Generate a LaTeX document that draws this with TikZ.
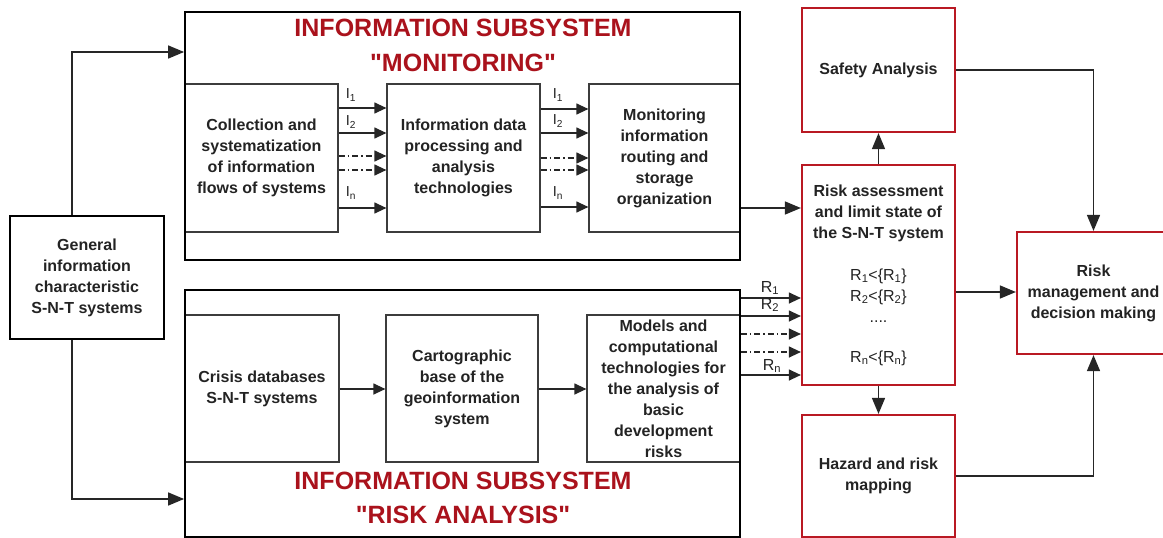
\documentclass[tikz,border=0pt]{standalone}
\usepackage{fontspec}
\setmainfont{Liberation Sans}
\usetikzlibrary{arrows.meta,calc}
\definecolor{boxred}{RGB}{185,25,35}
\definecolor{titlered}{RGB}{170,18,28}
\definecolor{txtc}{RGB}{35,35,35}
\definecolor{innerc}{RGB}{60,60,60}
\begin{document}
\begin{tikzpicture}[x=1pt,y=-1pt,
 outerbox/.style={draw=black, line width=1.8pt, inner sep=0pt},
 innerbox/.style={draw=innerc, line width=1.2pt, inner sep=0pt},
 redbox/.style={draw=boxred, line width=2.2pt, inner sep=0pt},
 txt/.style={font=\fontsize{16}{21}\selectfont\bfseries, text=txtc, align=center},
 ttl/.style={font=\fontsize{25}{34.5}\selectfont\bfseries, text=titlered, align=center, inner sep=0pt},
 lbl/.style={font=\fontsize{14.5}{16}\selectfont, text=txtc, inner sep=0pt},
 rlbl/.style={font=\fontsize{16}{16}\selectfont, text=txtc, inner sep=0pt},
 arr/.style={line width=1.5pt, draw=black!85, -{Triangle[length=16pt,width=13pt]}},
 flow/.style={line width=1.2pt, draw=black!85, -{Triangle[length=12pt,width=11pt]}},
 dflow/.style={flow, dash pattern=on 6pt off 3pt on 1.5pt off 3pt},
]
\useasboundingbox (0,0) rectangle (1163,538);

% inner boxes (monitoring)
\node[innerbox, txt, minimum width=153, minimum height=148] (b1) at (261.5,158)
  {Collection and\\systematization\\of information\\flows of systems};
\node[innerbox, txt, minimum width=153, minimum height=148] (b2) at (463.5,158)
  {Information data\\processing and\\analysis\\technologies};
\node[innerbox, txt, minimum width=151, minimum height=148] (b3) at (664.5,158)
  {Monitoring\\information\\routing and\\storage\\organization};
% inner boxes (risk analysis)
\node[innerbox, txt, minimum width=154, minimum height=147] (b4) at (262,388.5)
  {Crisis databases\\S-N-T systems};
\node[innerbox, txt, minimum width=152, minimum height=147] (b5) at (462,388.5)
  {Cartographic\\base of the\\geoinformation\\system};
\node[innerbox, txt, minimum width=153, minimum height=147] (b6) at (663.5,388.5)
  {Models and\\computational\\technologies for\\the analysis of\\basic\\development\\risks};

% outer boxes
\node[outerbox, minimum width=555, minimum height=248] (mon) at (462.5,136) {};
\node[outerbox, minimum width=555, minimum height=247] (risk) at (462.5,413.5) {};
\node[ttl] (t1) at (463,45.5) {INFORMATION SUBSYSTEM\\\textquotedbl MONITORING\textquotedbl};
\node[ttl] (t2) at (463,498) {INFORMATION SUBSYSTEM\\\textquotedbl RISK ANALYSIS\textquotedbl};

% left box
\node[outerbox, txt, minimum width=154, minimum height=123] (gen) at (87,277.5)
  {General\\information\\characteristic\\S-N-T systems};

% red boxes
\node[redbox, txt, minimum width=153, minimum height=124] (safety) at (878.5,70) {Safety Analysis};
\node[redbox, txt, minimum width=153, minimum height=220] (assess) at (878.5,275)
  {Risk assessment\\and limit state of\\the S-N-T system\\[21pt]
   {\mdseries R\textsubscript{1}<\{R\textsubscript{1}\}}\\
   {\mdseries R\textsubscript{2}<\{R\textsubscript{2}\}}\\
   {\mdseries ....}\\[19pt]
   {\mdseries R\textsubscript{n}<\{R\textsubscript{n}\}}};
\node[redbox, txt, minimum width=153, minimum height=122] (hazard) at (878.5,476)
  {Hazard and risk\\mapping};
\node[redbox, txt, minimum width=153, minimum height=122] (manage) at (1093.5,293)
  {Risk\\management and\\decision making};

% connectors from left box
\draw[arr] (gen.north -| 72,0) |- (mon.west |- 0,52);
\draw[arr] (gen.south -| 72,0) |- (risk.west |- 0,499);

% I flows b1 -> b2
\foreach \yy in {108,133,208} \draw[flow] (b1.east |- 0,\yy) -- (b2.west |- 0,\yy);
\foreach \yy in {156,170} \draw[dflow] (b1.east |- 0,\yy) -- (b2.west |- 0,\yy);
\node[lbl] (i11) at (351,95) {I\textsubscript{1}};
\node[lbl] (i12) at (351,122) {I\textsubscript{2}};
\node[lbl] (i1n) at (351,193) {I\textsubscript{n}};
% I flows b2 -> b3
\foreach \yy in {109,133,207} \draw[flow] (b2.east |- 0,\yy) -- (b3.west |- 0,\yy);
\foreach \yy in {158,170} \draw[dflow] (b2.east |- 0,\yy) -- (b3.west |- 0,\yy);
\node[lbl] (i21) at (558,95) {I\textsubscript{1}};
\node[lbl] (i22) at (558,121) {I\textsubscript{2}};
\node[lbl] (i2n) at (558,193) {I\textsubscript{n}};

% monitoring -> assessment
\draw[arr] (b3.east |- 0,208) -- (assess.west |- 0,208);

% R flows
\foreach \yy in {298,316,375} \draw[flow] (risk.east |- 0,\yy) -- (assess.west |- 0,\yy);
\foreach \yy in {334,352} \draw[dflow] (risk.east |- 0,\yy) -- (assess.west |- 0,\yy);
\node[rlbl] (r1) at (770,288) {R\textsubscript{1}};
\node[rlbl] (r2) at (770,305) {R\textsubscript{2}};
\node[rlbl] (rn) at (772,366) {R\textsubscript{n}};

% bottom flow
\draw[flow] (b4.east |- 0,389) -- (b5.west |- 0,389);
\draw[flow] (b5.east |- 0,389) -- (b6.west |- 0,389);

% right part
\draw[arr] (assess.north) -- (safety.south);
\draw[arr] (assess.south) -- (hazard.north);
\draw[arr] (assess.east |- 0,292) -- (manage.west |- 0,292);
\draw[arr] (safety.east) -| (manage.north);
\draw[arr] (hazard.east) -| (manage.south);
\end{tikzpicture}
\end{document}
